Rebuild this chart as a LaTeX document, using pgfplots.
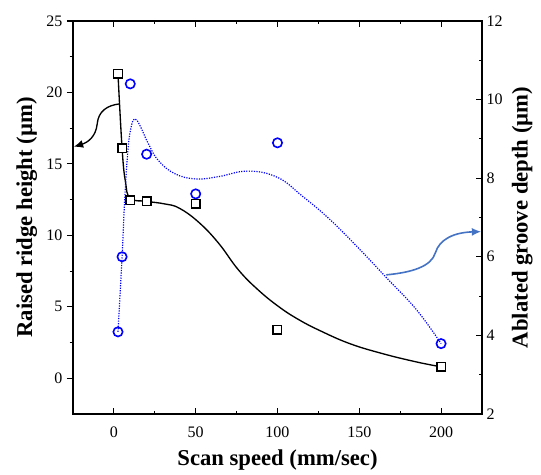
\documentclass[border=0pt]{standalone}
\usepackage{fontspec}
\setmainfont{Liberation Serif}
\usepackage{pgfplots}
\pgfplotsset{compat=1.18}
\usetikzlibrary{arrows.meta}

\definecolor{arrowblue}{RGB}{68,114,196}

\pgfplotsset{
  base/.style={
    scale only axis, width=306.75pt, height=294.75pt,
    xmin=-25, xmax=225,
    /pgf/number format/assume math mode=true,
    tick label style={font=\fontsize{12}{14}\selectfont},
    label style={font=\fontsize{17}{20}\selectfont\bfseries},
    major tick length=4.5pt, minor tick length=2.5pt,
    every tick/.style={black, line width=0.8pt},
    axis line style={line width=0.9pt},
    clip=false,
  }
}

\begin{document}
\begin{tikzpicture}
% frame and x ticks
\begin{axis}[base, ymin=-2.5, ymax=25, ytick=\empty,
  xtick={0,50,...,200}, minor x tick num=1, tick align=inside, xtick pos=both,
  xticklabel style={yshift=-6pt},
  xlabel={Scan speed (mm/sec)}, xlabel style={yshift=-2pt}]
\path (rel axis cs:-0.1785,-0.150) rectangle (rel axis cs:1.1443,1.0534);
\end{axis}

% left axis: raised ridge height
\begin{axis}[base, ymin=-2.5, ymax=25, axis x line=none, axis y line*=left,
  ytick={0,5,...,25}, minor y tick num=1, tick align=outside,
  ylabel={Raised ridge height (µm)}]
\addplot[black, line width=1pt, smooth, tension=0.7] coordinates {
  (2.5,21.3) (5,16.1) (7,13.8) (10,12.6) (20,12.38)
  (31,12.2) (40,11.9) (52,10.9) (64,9.45) (76,7.6) (88,6.2)
  (101,4.99) (113,4.1) (126,3.33) (144,2.43) (164,1.73)
  (185,1.14) (200,0.8)
};
\addplot[only marks, mark=square*, mark size=3.2pt,
  mark options={draw=black, fill=white, line width=1.1pt}] coordinates {
  (2.5,21.3) (5,16.1) (10,12.45) (20,12.4) (50,12.2) (100,3.4) (200,0.8)
};
\draw[black, line width=1pt, -{Latex[length=7pt,width=6pt]}]
  (axis cs:3.5,19.2) .. controls (axis cs:-4,19.1) and (axis cs:-9.5,18.7) ..
  (axis cs:-10.2,17.8) .. controls (axis cs:-11,16.9) and (axis cs:-16,16.5) ..
  (axis cs:-24.5,16.2);
\end{axis}

% right axis: ablated groove depth
\begin{axis}[base, ymin=2, ymax=12, axis x line=none, axis y line*=right,
  ytick={2,4,...,12}, minor y tick num=1, tick align=inside,
  ylabel={Ablated groove depth (µm)}]
\addplot[blue, line width=0.9pt, densely dotted, smooth, tension=0.7] coordinates {
  (2.5,4.09) (5,6.0) (6.6,7.45) (8.6,8.72) (10.6,9.31) (12.7,9.51)
  (15.8,9.35) (20.9,8.89) (27,8.46) (37,8.12) (50,7.98) (64,8.04)
  (82,8.18) (100,8.02) (115,7.55) (132,6.95) (150,6.2) (167,5.45)
  (185,4.65) (200,3.79)
};
\addplot[only marks, mark=o, mark size=3.5pt,
  mark options={draw=blue, line width=1.2pt}] coordinates {
  (2.5,4.09) (5,6.0) (10,10.4) (20,8.61) (50,7.6) (100,8.9) (200,3.79)
};
\draw[arrowblue, line width=1.2pt, -{Latex[length=7pt,width=6pt]}]
  (axis cs:166.5,5.54) .. controls (axis cs:182,5.6) and (axis cs:194,5.75) ..
  (axis cs:196.5,6.1) .. controls (axis cs:199,6.45) and (axis cs:208,6.62) ..
  (axis cs:224.5,6.64);
\end{axis}
\end{tikzpicture}
\end{document}
